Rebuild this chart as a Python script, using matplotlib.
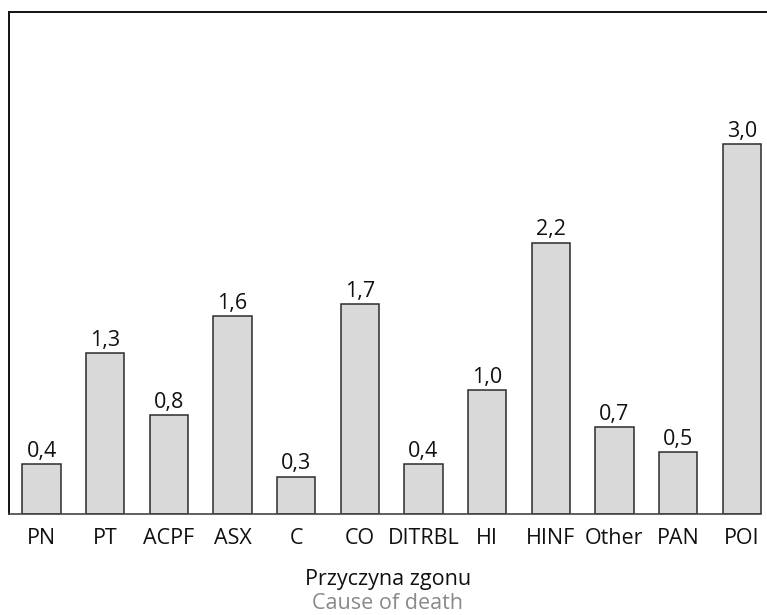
import matplotlib
matplotlib.use("Agg")
import matplotlib.pyplot as plt

categories = ["PN", "PT", "ACPF", "ASX", "C", "CO", "DITRBL", "HI", "HINF", "Other", "PAN", "POI"]
values = [0.4, 1.3, 0.8, 1.6, 0.3, 1.7, 0.4, 1.0, 2.2, 0.7, 0.5, 3.0]
value_labels = ["0,4", "1,3", "0,8", "1,6", "0,3", "1,7", "0,4", "1,0", "2,2", "0,7", "0,5", "3,0"]
xlabel_pl = "Przyczyna zgonu"
xlabel_en = "Cause of death"

plt.rcParams["font.family"] = ["Open Sans", "DejaVu Sans"]

W, H = 767, 615
FS = 15.5
fig = plt.figure(figsize=(W / 100, H / 100), dpi=100)
ax = fig.add_axes([9 / W, (H - 513.5) / H, 1.0 - 9 / W + 0.002, (513.5 - 12) / H])

x = list(range(len(categories)))
ax.bar(x, values, width=0.6, color="#d9d9d9", edgecolor="#2b2b2b", linewidth=1.1, zorder=2)

for xi, v, lab in zip(x, values, value_labels):
    ax.annotate(lab, (xi, v), xytext=(0, 5.3), textcoords="offset points",
                ha="center", va="baseline", fontsize=FS, color="#111111")

ax.set_xlim(-0.511, 11.42)
ax.set_ylim(0, 4.073)
ax.set_xticks(x)
ax.set_xticklabels(categories, fontsize=FS, color="#111111")
ax.tick_params(axis="x", length=0, pad=10.5)
ax.set_yticks([])

for side in ("left", "top"):
    ax.spines[side].set_color("#111111")
    ax.spines[side].set_linewidth(1.4)
ax.spines["right"].set_visible(False)
ax.spines["bottom"].set_color("#444444")
ax.spines["bottom"].set_linewidth(1.2)
ax.spines["bottom"].set_bounds(-0.511, 11.3)

fig.text(388 / W, 1 - 585 / H, xlabel_pl, ha="center", va="baseline", fontsize=FS, color="#111111")
fig.text(388 / W, 1 - 609 / H, xlabel_en, ha="center", va="baseline", fontsize=FS, color="#8a8a8a")

fig.savefig("out.png", dpi=100)
